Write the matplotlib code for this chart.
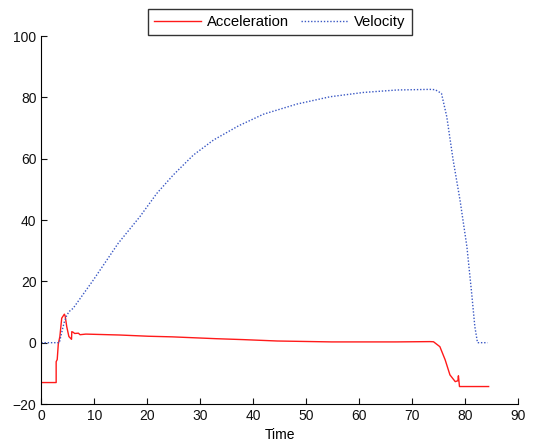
import matplotlib
matplotlib.use('Agg')
import matplotlib.pyplot as plt

plt.rcParams['font.family'] = ['Liberation Sans', 'DejaVu Sans']

# Acceleration
acc_t = [0, 0, 2.8, 2.8, 3.0, 3.2, 3.5, 3.85, 4.35, 4.5, 4.8, 5.2, 5.7, 5.75,
         6.0, 6.3, 7.0, 7.3, 8.4, 14.8, 20.2, 24.7, 33.0, 38.1, 44.5, 54.8,
         66.9, 73.3, 74.0, 75.2, 76.2, 77.1, 78.1, 78.6, 78.7, 78.9, 84.4]
acc_v = [0, -13, -13, -6.2, -5.5, -0.5, 2.0, 8.0, 9.3, 8.7, 5.2, 2.0, 1.1, 3.6,
         3.4, 3.0, 3.1, 2.6, 2.8, 2.5, 2.1, 1.9, 1.3, 1.0, 0.55, 0.25,
         0.25, 0.35, 0.3, -1.3, -5.6, -10.5, -12.7, -12.4, -10.8, -14.3, -14.3]

# Velocity
vel_t = [0, 3.4, 3.8, 4.3, 4.7, 5.2, 6.0, 9.8, 14.5, 18.6, 21.8, 24.9, 28.7,
         32.5, 37.2, 41.9, 48.2, 54.5, 60.8, 67.1, 73.3, 74.3, 75.5, 76.5,
         77.7, 79.0, 80.3, 81.2, 81.8, 82.3, 84.2]
vel_v = [0, 0, 3.0, 6.5, 8.5, 10.1, 11.2, 20.4, 32.4, 41.1, 48.7, 54.7, 61.2,
         66.1, 70.7, 74.5, 77.8, 80.2, 81.6, 82.4, 82.6, 82.5, 81.3, 73.7,
         59.6, 46.5, 31.3, 16.1, 5.2, 0, 0]

fig = plt.figure(figsize=(5.38, 4.43), dpi=100)
ax = fig.add_axes([0.0768, 0.088, 0.8866, 0.8307])

ax.plot(acc_t, acc_v, color='#ff1a1a', lw=1.0, label='Acceleration')
ax.plot(vel_t, vel_v, color='#3a58c4', lw=1.0, ls=(0, (1, 1.3)), label='Velocity')

ax.set_xlim(0, 90)
ax.set_ylim(-20, 100)
ax.set_xticks(range(0, 91, 10))
ax.set_yticks(range(-20, 101, 20))
ax.spines['top'].set_visible(False)
ax.spines['right'].set_visible(False)
ax.tick_params(direction='in', length=4, labelsize=10, colors='#111111')
ax.set_xlabel('Time', fontsize=10, labelpad=4)

leg = ax.legend(loc='lower center', bbox_to_anchor=(0.5, 1.003), ncol=2,
                fontsize=10.7, frameon=True, fancybox=False, edgecolor='black',
                borderpad=0.4, handlelength=3.2, columnspacing=0.75,
                handletextpad=0.4, borderaxespad=0)
leg.get_frame().set_linewidth(1.0)

fig.savefig('out.png', dpi=100)
